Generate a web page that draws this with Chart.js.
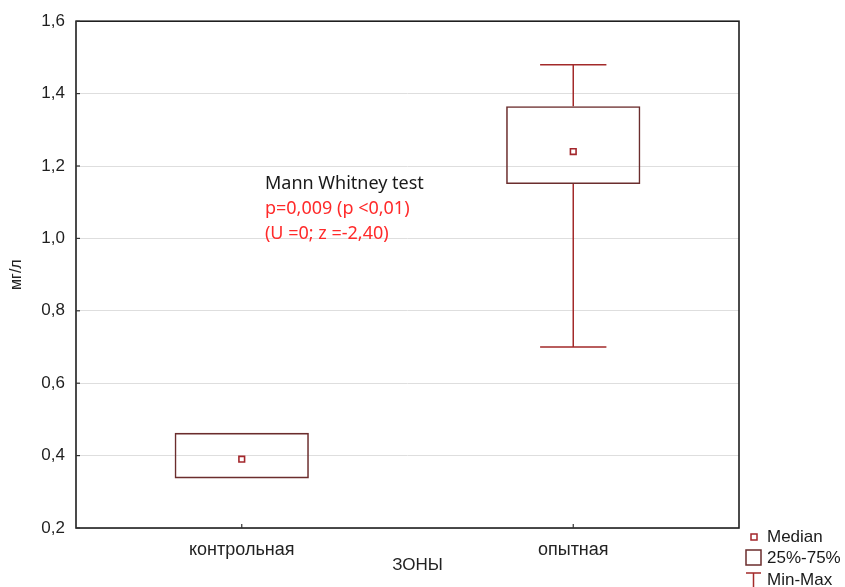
<!DOCTYPE html>
<html>
<head>
<meta charset="utf-8">
<script src="https://cdn.jsdelivr.net/npm/chart.js@4/dist/chart.umd.min.js"></script>
<style>
  body { margin: 0; background: #fff; }
  #wrap { width: 845px; height: 587px; }
</style>
</head>
<body>
<div id="wrap"><canvas id="boxChart" width="845" height="587"></canvas></div>
<script>
// === DATA ===
const zones = ['контрольная', 'опытная'];
const zonePos = [1, 2];
const minVals = [0.337, 0.70];
const q1Vals = [0.337, 1.15];
const medianVals = [0.39, 1.24];
const q3Vals = [0.463, 1.365];
const maxVals = [0.463, 1.48];
const yTickValues = [0.2, 0.4, 0.6, 0.8, 1.0, 1.2, 1.4, 1.6];
const yTickLabels = ['0,2', '0,4', '0,6', '0,8', '1,0', '1,2', '1,4', '1,6'];
const testLines = ['Mann Whitney test', 'p=0,009 (p <0,01)', '(U =0; z =-2,40)'];
const legendLabels = ['Median', '25%-75%', 'Min-Max'];

const boxColor = '#6b2d2d';
const whiskColor = '#a32a2a';
const medColor = '#a3262b';
const capHalf = 0.1;

// whiskers + caps as one broken line (y: null = gap), skipped when min/max sit on the box
const whiskerPts = [];
zonePos.forEach((x, i) => {
    if (maxVals[i] > q3Vals[i]) {
        whiskerPts.push({x: x, y: q3Vals[i]}, {x: x, y: maxVals[i]}, {x: x, y: null});
        whiskerPts.push({x: x - capHalf, y: maxVals[i]}, {x: x + capHalf, y: maxVals[i]}, {x: x, y: null});
    }
    if (minVals[i] < q1Vals[i]) {
        whiskerPts.push({x: x, y: q1Vals[i]}, {x: x, y: minVals[i]}, {x: x, y: null});
        whiskerPts.push({x: x - capHalf, y: minVals[i]}, {x: x + capHalf, y: minVals[i]}, {x: x, y: null});
    }
});

const boxPts = zonePos.map((x, i) => ({x: x, y: [q1Vals[i], q3Vals[i]]}));
const medPts = zonePos.map((x, i) => ({x: x, y: medianVals[i]}));

// === EXTRA DRAWING (frame, text, legend) ===
const extras = {
    id: 'extras',
    beforeDraw(chart) {
        const c = chart.ctx;
        c.save();
        c.fillStyle = '#fff';
        c.fillRect(0, 0, chart.width, chart.height);
        c.restore();
    },
    afterDraw(chart) {
        const c = chart.ctx;
        const a = chart.chartArea;
        const xs = chart.scales.x, ys = chart.scales.y;
        c.save();

        // frame
        c.strokeStyle = '#1f1f1f';
        c.lineWidth = 1.6;
        c.strokeRect(a.left, a.top, a.right - a.left, a.bottom - a.top);

        // small inner ticks
        c.lineWidth = 1.2;
        c.strokeStyle = '#333';
        yTickValues.forEach(v => {
            const py = ys.getPixelForValue(v);
            c.beginPath(); c.moveTo(a.left, py); c.lineTo(a.left + 4, py); c.stroke();
        });
        zonePos.forEach(v => {
            const px = xs.getPixelForValue(v);
            c.beginPath(); c.moveTo(px, a.bottom); c.lineTo(px, a.bottom - 4); c.stroke();
        });

        // x axis title
        c.fillStyle = '#222';
        c.font = '17px "Liberation Sans", Arial, sans-serif';
        c.textAlign = 'center';
        c.textBaseline = 'middle';
        c.fillText('ЗОНЫ', chart.width / 2 - 5, 565);

        // test annotation
        const tx = xs.getPixelForValue(1.07);
        const ty = ys.getPixelForValue(1.152);
        c.textAlign = 'left';
        c.font = '18px "Noto Sans", sans-serif';
        testLines.forEach((t, i) => {
            c.fillStyle = i === 0 ? '#1a1a1a' : '#ff2a2a';
            c.fillText(t, tx, ty + i * 25);
        });

        // legend
        const lx = a.right + 7;
        c.font = '17px "Liberation Sans", Arial, sans-serif';
        c.fillStyle = '#1a1a1a';
        legendLabels.forEach((t, i) => c.fillText(t, lx + 21, 537 + i * 21.5));
        c.fillStyle = '#fff';
        c.strokeStyle = medColor; c.lineWidth = 1.5;
        c.fillRect(lx + 5, 534, 6, 6); c.strokeRect(lx + 5, 534, 6, 6);
        c.strokeStyle = boxColor;
        c.strokeRect(lx, 550, 15, 15);
        c.strokeStyle = whiskColor;
        c.beginPath();
        c.moveTo(lx, 573); c.lineTo(lx + 15, 573);
        c.moveTo(lx + 7.5, 573); c.lineTo(lx + 7.5, 590);
        c.stroke();

        c.restore();
    }
};

// === CHART ===
new Chart(document.getElementById('boxChart'), {
    type: 'bar',
    data: {
        datasets: [
            {
                type: 'scatter', data: medPts, order: 0,
                pointStyle: 'rect', pointRadius: 4, borderWidth: 1.6,
                borderColor: medColor, backgroundColor: '#fff'
            },
            {
                type: 'bar', data: boxPts, order: 1,
                backgroundColor: 'rgba(255,255,255,0)', borderColor: boxColor,
                borderWidth: 1.6, borderSkipped: false,
                categoryPercentage: 1, barPercentage: 0.405
            },
            {
                type: 'line', data: whiskerPts, order: 2,
                showLine: true, spanGaps: false, pointRadius: 0,
                borderColor: whiskColor, borderWidth: 1.5, fill: false
            }
        ]
    },
    options: {
        responsive: false,
        animation: false,
        devicePixelRatio: 1,
        layout: { padding: { top: 19, right: 106, left: 0, bottom: 0 } },
        plugins: { legend: { display: false }, tooltip: { enabled: false } },
        scales: {
            x: {
                type: 'linear', min: 0.5, max: 2.5, offset: false,
                grid: { display: false },
                border: { display: false },
                afterBuildTicks: s => { s.ticks = zonePos.map(v => ({value: v})); },
                afterFit: s => { s.height = 59; },
                ticks: {
                    padding: 3, color: '#222', maxRotation: 0,
                    font: { family: '"Liberation Sans", Arial, sans-serif', size: 18 },
                    callback: v => zones[zonePos.indexOf(v)]
                }
            },
            y: {
                min: 0.2, max: 1.6,
                grid: { color: '#dedede', lineWidth: 1, drawTicks: false },
                border: { display: false },
                afterBuildTicks: s => { s.ticks = yTickValues.map(v => ({value: v})); },
                afterFit: s => { s.width = 76; },
                ticks: {
                    padding: 11, color: '#1f1f1f',
                    font: { family: '"Liberation Sans", Arial, sans-serif', size: 17 },
                    callback: (v, i) => yTickLabels[i]
                },
                title: {
                    display: true, text: 'мг/л', color: '#222',
                    font: { family: '"Liberation Sans", Arial, sans-serif', size: 16 },
                    padding: { top: 7, bottom: 0 }
                }
            }
        }
    },
    plugins: [extras]
});
</script>
</body>
</html>
